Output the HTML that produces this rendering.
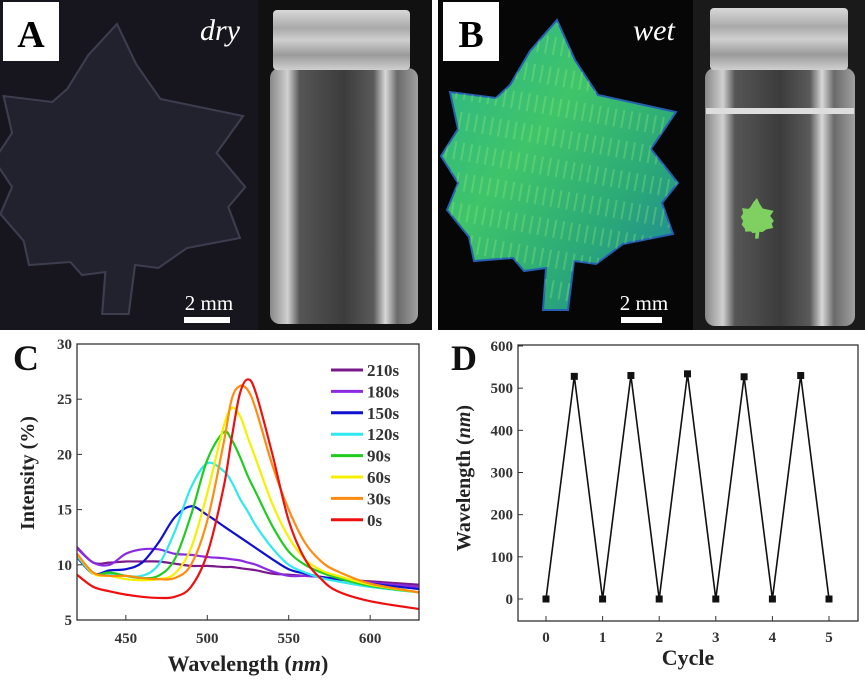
<!DOCTYPE html>
<html><head><meta charset="utf-8"><style>
html,body{margin:0;padding:0;background:#fff;}
svg{display:block;font-family:"Liberation Serif",serif;}
</style></head><body>
<svg id="fig" width="865" height="681" viewBox="0 0 865 681" xmlns="http://www.w3.org/2000/svg">
<defs>
<linearGradient id="jarBody" x1="0" x2="1" y1="0" y2="0">
<stop offset="0" stop-color="#888"/><stop offset="0.12" stop-color="#d0d0d0"/><stop offset="0.2" stop-color="#555"/><stop offset="0.5" stop-color="#3c3c3c"/><stop offset="0.7" stop-color="#5a5a5a"/><stop offset="0.78" stop-color="#d8d8d8"/><stop offset="0.86" stop-color="#6a6a6a"/><stop offset="1" stop-color="#a0a0a0"/>
</linearGradient>
<linearGradient id="cap" x1="0" x2="0" y1="0" y2="1">
<stop offset="0" stop-color="#d8d8d8"/><stop offset="0.3" stop-color="#a9a9a9"/><stop offset="0.5" stop-color="#cfcfcf"/><stop offset="0.75" stop-color="#9a9a9a"/><stop offset="1" stop-color="#d0d0d0"/>
</linearGradient>
<linearGradient id="leafG" x1="0" x2="1" y1="0" y2="1">
<stop offset="0" stop-color="#2bb58a"/><stop offset="0.4" stop-color="#3fc46a"/><stop offset="0.7" stop-color="#2aa878"/><stop offset="1" stop-color="#1e7fa0"/>
</linearGradient>
<pattern id="streak" width="8" height="30" patternUnits="userSpaceOnUse" patternTransform="rotate(10)">
<rect width="8" height="30" fill="none"/><rect x="1" y="0" width="2" height="18" fill="#9bf07a" opacity="0.3"/>
</pattern>
</defs>

<g>
<rect x="0" y="0" width="258" height="330" fill="#17151d"/>
<polygon id="leafA" transform="translate(-440,4) translate(557,0) scale(1.06,1) translate(-557,0)" fill="#22222e" stroke="#3c3e50" stroke-width="2" points="557,20 575,60 598,95 676,112 651,149 678,183 662,203 673,234 623,244 596,264 574,261 568,310 543,310 546,268 524,271 513,258 474,261 469,237 447,210 458,183 441,156 458,129 450,92 496,98 510,85 530,51"/>
<rect x="258" y="0" width="174" height="330" fill="#111"/>
<rect x="270" y="68" width="148" height="256" rx="10" fill="url(#jarBody)"/>
<rect x="273" y="10" width="137" height="60" rx="4" fill="url(#cap)"/>
<rect x="3" y="2" width="56" height="59" fill="#fff"/>
<text x="31" y="47" font-size="38" font-weight="bold" text-anchor="middle">A</text>
<text x="220" y="40" font-size="30" font-style="italic" fill="#fff" text-anchor="middle">dry</text>
<text x="209" y="310" font-size="21" fill="#fff" text-anchor="middle">2 mm</text>
<rect x="184" y="317" width="46" height="6" fill="#fff"/>
</g>

<g>
<rect x="438" y="0" width="255" height="330" fill="#060606"/>
<polygon fill="url(#leafG)" stroke="#2560b0" stroke-width="2" points="557,20 575,60 598,95 676,112 651,149 678,183 662,203 673,234 623,244 596,264 574,261 568,310 543,310 546,268 524,271 513,258 474,261 469,237 447,210 458,183 441,156 458,129 450,92 496,98 510,85 530,51"/>
<polygon fill="url(#streak)" points="557,20 575,60 598,95 676,112 651,149 678,183 662,203 673,234 623,244 596,264 574,261 568,310 543,310 546,268 524,271 513,258 474,261 469,237 447,210 458,183 441,156 458,129 450,92 496,98 510,85 530,51"/>
<rect x="693" y="0" width="172" height="330" fill="#1a1a1a"/>
<rect x="705" y="68" width="150" height="258" rx="10" fill="url(#jarBody)"/>
<rect x="706" y="108" width="148" height="6" fill="#ddd"/>
<rect x="710" y="8" width="138" height="62" rx="4" fill="url(#cap)"/>
<polygon fill="#7fd060" transform="translate(757,198) scale(0.14) translate(-557,-20)" points="557,20 575,60 598,95 676,112 651,149 678,183 662,203 673,234 623,244 596,264 574,261 568,310 543,310 546,268 524,271 513,258 474,261 469,237 447,210 458,183 441,156 458,129 450,92 496,98 510,85 530,51"/>
<rect x="443" y="2" width="56" height="59" fill="#fff"/>
<text x="471" y="47" font-size="38" font-weight="bold" text-anchor="middle">B</text>
<text x="654" y="40" font-size="30" font-style="italic" fill="#fff" text-anchor="middle">wet</text>
<text x="644" y="310" font-size="21" fill="#fff" text-anchor="middle">2 mm</text>
<rect x="621" y="317" width="41" height="6" fill="#fff"/>
</g>

<g id="chartC"></g>
<g id="chartD"></g>
</svg>
<script>
const NS="http://www.w3.org/2000/svg";
const wavelengths=[420,430,440,450,460,470,480,490,500,510,515,520,525,530,540,550,560,570,580,600,630];
const seriesNames=["210s","180s","150s","120s","90s","60s","30s","0s"];
const seriesColors=["#7a1a8a","#8a2be2","#1010d0","#30e8f0","#20cc20","#f5f000","#ff8c10","#ee1010"];
const s210=[11.6,10.2,10.2,10.3,10.3,10.3,10.1,9.9,9.9,9.8,9.8,9.7,9.6,9.5,9.2,9.1,9.0,8.9,8.7,8.5,8.2];
const s180=[11.5,10.2,10.0,11.0,11.4,11.4,11.0,10.9,10.7,10.6,10.5,10.4,10.2,10.0,9.4,9.0,9.0,8.9,8.7,8.4,8.0];
const s150=[10.7,9.2,9.5,9.6,10.2,12.0,14.3,15.3,14.5,13.5,13.0,12.5,12.0,11.5,10.5,9.6,9.2,8.9,8.7,8.3,7.8];
const s120=[10.8,9.2,9.2,9.0,9.0,10.0,13.0,17.0,19.2,18.5,17.5,16.0,14.8,13.5,11.5,10.0,9.3,8.8,8.5,8.0,7.5];
const s90=[11.0,9.2,9.3,9.0,8.8,9.0,10.5,14.5,19.5,22.0,21.3,19.8,18.0,16.5,13.5,11.2,10.0,9.3,8.8,8.1,7.5];
const s60=[11.0,9.2,9.0,8.7,8.6,8.7,9.2,11.5,16.5,22.5,24.2,23.5,21.5,19.5,15.5,12.5,10.5,9.5,9.0,8.2,7.5];
const s30=[11.0,9.3,9.0,9.0,8.8,8.7,8.8,10.0,14.0,21.0,25.0,26.2,25.8,24.0,19.0,15.0,12.0,10.3,9.4,8.3,7.5];
const s0=[9.1,8.0,7.6,7.3,7.1,7.0,7.1,8.0,11.0,17.0,21.5,25.5,26.8,25.5,20.0,14.0,10.5,8.7,7.6,6.7,6.0];
const seriesValues=[s210,s180,s150,s120,s90,s60,s30,s0];
const xTicksC=[450,500,550,600];
const yTicksC=[5,10,15,20,25,30];

const cycleX=[0,0.5,1,1.5,2,2.5,3,3.5,4,4.5,5];
const cycleY=[0,528,0,530,0,534,0,527,0,530,0];
const xTicksD=[0,1,2,3,4,5];
const yTicksD=[0,100,200,300,400,500,600];

function mk(parent,tag,attrs,text){const e=document.createElementNS(NS,tag);for(const k in attrs)e.setAttribute(k,attrs[k]);if(text!==undefined)e.textContent=text;parent.appendChild(e);return e;}
function smooth(pts){let d="M"+pts[0][0]+","+pts[0][1];for(let i=0;i<pts.length-1;i++){const p0=pts[Math.max(0,i-1)],p1=pts[i],p2=pts[i+1],p3=pts[Math.min(pts.length-1,i+2)];const c1x=p1[0]+(p2[0]-p0[0])/6,c1y=p1[1]+(p2[1]-p0[1])/6,c2x=p2[0]-(p3[0]-p1[0])/6,c2y=p2[1]-(p3[1]-p1[1])/6;d+=" C"+c1x+","+c1y+" "+c2x+","+c2y+" "+p2[0]+","+p2[1];}return d;}

(function(){
const g=document.getElementById("chartC");
const L=77,R=419,T=344,B=620;
const xs=v=>L+(v-420)/(630-420)*(R-L);
const ys=v=>B-(v-5)/(30-5)*(B-T);
yTicksC.forEach(v=>{
 const t=mk(g,"line",{x1:L,x2:L+5,y1:ys(v),y2:ys(v),stroke:"#333","stroke-width":1});
 
 
 const l=mk(g,"text",{x:L-5,y:ys(v)+5,"font-size":15,"font-weight":"bold","text-anchor":"end",fill:"#333"},String(v));
 
 
});
xTicksC.forEach(v=>{
 const t=mk(g,"line",{x1:xs(v),x2:xs(v),y1:B,y2:B-5,stroke:"#333","stroke-width":1});
 
 
 const l=mk(g,"text",{x:xs(v),y:B+23,"font-size":15,"font-weight":"bold","text-anchor":"middle",fill:"#333"},String(v));
 
 
});
seriesValues.forEach((vals,i)=>{
 const pts=wavelengths.map((w,j)=>[xs(w),ys(vals[j])]);
 const p=mk(g,"path",{d:smooth(pts),fill:"none",stroke:seriesColors[i],"stroke-width":2.2});
 
 
 const ly=370+i*21.4;
 const ll=mk(g,"line",{x1:331,x2:363,y1:ly,y2:ly,stroke:seriesColors[i],"stroke-width":3});
 
 
 const lt=mk(g,"text",{x:367,y:ly+6,"font-size":17,"font-weight":"bold",fill:"#333"},seriesNames[i]);
 
 
});
const f=mk(g,"rect",{x:L,y:T,width:R-L,height:B-T,fill:"none",stroke:"#333","stroke-width":1.3});


const c=mk(g,"text",{x:13,y:370,"font-size":36,"font-weight":"bold",fill:"#111"},"C");


const yt=mk(g,"text",{x:0,y:0,"font-size":20,"font-weight":"bold","text-anchor":"middle",fill:"#222",transform:"translate(34,473) rotate(-90)"},"Intensity (%)");


const xt=mk(g,"text",{x:248,y:671,"font-size":22,"font-weight":"bold","text-anchor":"middle",fill:"#222"});
xt.innerHTML='Wavelength (<tspan font-style="italic">nm</tspan>)';


})();

(function(){
const g=document.getElementById("chartD");
const L=518,R=858,T=345,B=621;
const xs=v=>546+(v-0)/5*(829-546);
const ys=v=>599-v/600*(599-346);
yTicksD.forEach(v=>{
 const t=mk(g,"line",{x1:L,x2:L+5,y1:ys(v),y2:ys(v),stroke:"#333","stroke-width":1});
 
 
 const l=mk(g,"text",{x:L-5,y:ys(v)+5,"font-size":15,"font-weight":"bold","text-anchor":"end",fill:"#333"},String(v));
 
 
});
xTicksD.forEach(v=>{
 const t=mk(g,"line",{x1:xs(v),x2:xs(v),y1:B,y2:B-5,stroke:"#333","stroke-width":1});
 
 
 const l=mk(g,"text",{x:xs(v),y:B+21,"font-size":15,"font-weight":"bold","text-anchor":"middle",fill:"#333"},String(v));
 
 
});
const pl=mk(g,"polyline",{points:cycleX.map((x,i)=>xs(x)+","+ys(cycleY[i])).join(" "),fill:"none",stroke:"#111","stroke-width":1.6});


cycleX.forEach((x,i)=>{
 const m=mk(g,"rect",{x:xs(x)-3.5,y:ys(cycleY[i])-3.5,width:7,height:7,fill:"#111"});
 
 
});
const f=mk(g,"rect",{x:L,y:T,width:R-L,height:B-T,fill:"none",stroke:"#333","stroke-width":1.3});


const d=mk(g,"text",{x:451,y:370,"font-size":36,"font-weight":"bold",fill:"#111"},"D");


const yt=mk(g,"text",{x:0,y:0,"font-size":20,"font-weight":"bold","text-anchor":"middle",fill:"#222",transform:"translate(470,478) rotate(-90)"});
yt.innerHTML='Wavelength (<tspan font-style="italic">nm</tspan>)';


const xt=mk(g,"text",{x:688,y:665,"font-size":22,"font-weight":"bold","text-anchor":"middle",fill:"#222"},"Cycle");


})();
</script>
</body></html>
